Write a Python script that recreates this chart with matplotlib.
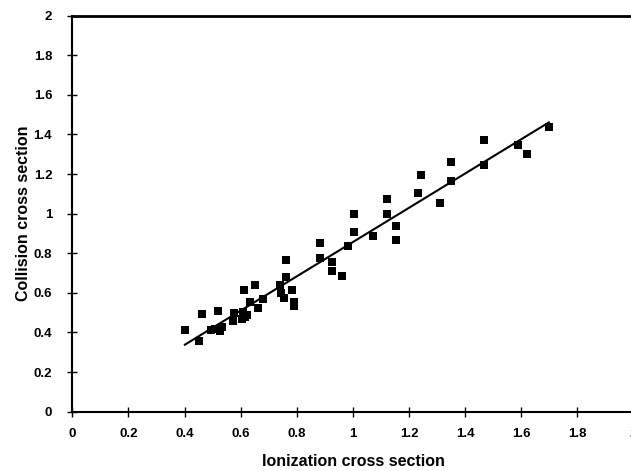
import numpy as np
import matplotlib
matplotlib.use('Agg')
import matplotlib.pyplot as plt

# ionization vs collision cross sections
ionization = [0.401, 0.452, 0.461, 0.494, 0.508, 0.526, 0.519, 0.532,
              0.573, 0.576, 0.603, 0.609, 0.621, 0.615, 0.613, 0.633,
              0.651, 0.660, 0.680, 0.740, 0.742, 0.756, 0.761, 0.761,
              0.782, 0.790, 0.790, 0.882, 0.882, 0.924, 0.924, 0.962,
              0.983, 1.004, 1.004, 1.072, 1.122, 1.122, 1.152, 1.152,
              1.232, 1.241, 1.310, 1.350, 1.350, 1.468, 1.468, 1.587,
              1.619, 1.698]
collision = [0.411, 0.359, 0.492, 0.413, 0.418, 0.408, 0.509, 0.426,
             0.456, 0.498, 0.468, 0.505, 0.490, 0.478, 0.615, 0.552,
             0.640, 0.522, 0.568, 0.640, 0.598, 0.575, 0.766, 0.682,
             0.615, 0.552, 0.536, 0.852, 0.774, 0.754, 0.712, 0.684,
             0.836, 0.997, 0.906, 0.887, 1.075, 0.997, 0.938, 0.867,
             1.105, 1.194, 1.056, 1.262, 1.165, 1.374, 1.246, 1.345,
             1.303, 1.437]

ticks = [0, 0.2, 0.4, 0.6, 0.8, 1, 1.2, 1.4, 1.6, 1.8, 2]
tick_labels = ['0', '0.2', '0.4', '0.6', '0.8', '1', '1.2', '1.4', '1.6', '1.8', '2']

plt.rcParams['font.family'] = ['Liberation Sans', 'DejaVu Sans']
plt.rcParams['font.weight'] = 'bold'

fig = plt.figure(figsize=(6.31, 4.71), dpi=100)
ax = fig.add_axes([0.1147, 0.1259, 0.8893, 0.8408])

x = np.array(ionization)
y = np.array(collision)
ax.scatter(x, y, marker='s', s=28, c='black', linewidths=0, zorder=3)

# linear trendline over the data range
slope, intercept = np.polyfit(x, y, 1)
xs = np.array([x.min(), x.max()])
ax.plot(xs, slope * xs + intercept, color='black', lw=1.5, zorder=2)

ax.set_xlim(0, 2)
ax.set_ylim(0, 2)
ax.set_xticks(ticks)
ax.set_xticklabels(tick_labels)
ax.set_yticks(ticks)
ax.set_yticklabels(tick_labels)
ax.tick_params(direction='inout', length=7, width=1, labelsize=9.5, pad=8)
ax.tick_params(axis='y', pad=11)

for side in ['left', 'bottom']:
    ax.spines[side].set_linewidth(1.5)
ax.spines['top'].set_linewidth(2)
ax.spines['right'].set_visible(False)

ax.set_xlabel('Ionization cross section', fontsize=11.5, fontweight='bold', labelpad=10)
ax.set_ylabel('Collision cross section', fontsize=11.5, fontweight='bold', labelpad=2)

fig.savefig('out.png', dpi=100)
